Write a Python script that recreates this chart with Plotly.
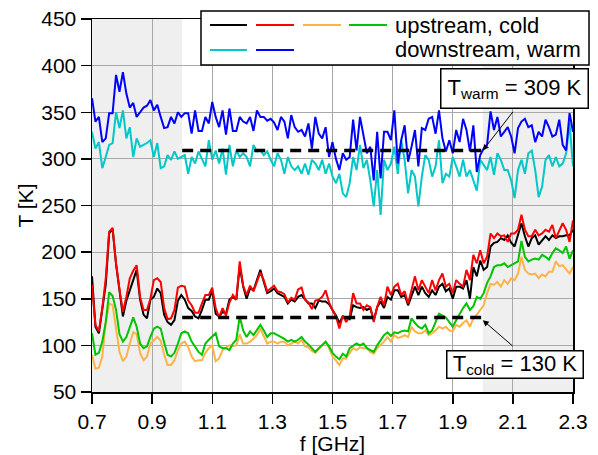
import numpy as np
import plotly.graph_objects as go

# ---------------- data ----------------
F_START, F_STOP = 0.7, 2.3          # GHz, first / last sample

# upstream, cold (black, red, orange, green)
black = [174,120,113,138,165,220,225,187,156,131,
         148,159,168,181,149,133,129,149,152,161,
         156,133,125,122,127,148,154,149,140,137,
         131,129,138,149,149,159,134,131,136,134,
         149,152,149,185,163,150,161,159,170,181,
         168,156,158,161,156,154,152,145,149,147,
         152,154,149,145,145,140,148,147,147,144,
         138,132,124,131,129,128,143,141,140,141,
         138,140,127,141,147,140,152,149,159,159,
         152,154,143,154,163,154,163,156,152,159,
         154,163,166,158,161,150,163,163,161,170,
         150,184,174,191,181,184,206,210,211,215,
         213,218,210,206,220,231,217,206,215,218,
         208,213,217,213,218,215,217,217,218,218,224]
red = [165,122,115,140,172,222,226,188,160,136,
       152,172,180,186,152,138,138,150,170,172,
       168,140,128,129,138,162,164,163,148,143,
       135,135,145,154,154,162,140,130,140,132,
       146,154,149,190,164,154,164,158,168,178,
       170,158,161,164,158,157,155,146,151,149,
       160,162,149,146,139,148,149,152,159,146,
       138,131,118,132,125,131,156,145,145,138,
       143,141,125,141,152,143,163,154,163,166,
       154,158,145,159,174,159,170,163,156,170,
       159,170,177,163,166,156,170,166,163,181,
       170,197,188,202,188,195,220,215,220,217,
       218,211,220,220,224,240,224,217,217,224,
       218,220,224,222,229,215,224,231,224,211,234]
orange = [90,75,76,88,124,145,143,120,93,83,
          88,102,114,112,92,84,88,102,106,109,
          105,90,79,79,84,95,102,104,98,88,
          83,84,84,92,97,100,83,86,95,98,
          100,99,100,112,102,102,104,107,111,118,
          109,102,104,104,102,104,104,100,102,104,
          102,106,99,98,94,92,96,100,104,97,
          88,84,79,86,86,92,97,95,98,97,
          97,93,91,97,100,104,109,104,111,108,
          109,111,109,120,115,113,113,116,111,113,
          116,120,118,120,116,115,122,120,124,127,
          120,129,133,138,143,156,166,165,168,163,
          170,166,172,170,177,195,181,177,176,177,
          172,176,174,179,179,190,185,186,182,177,184]
green = [113,90,92,104,125,157,153,138,112,104,
         109,120,130,120,102,97,99,109,118,120,
         118,103,90,88,92,102,113,115,113,104,
         98,93,90,102,106,110,113,99,97,97,
         95,102,106,131,116,109,115,111,116,122,
         116,109,113,113,111,109,107,104,106,104,
         106,109,104,101,97,93,97,101,104,99,
         92,88,85,91,88,97,100,102,100,102,
         97,95,93,100,106,111,114,110,114,113,
         115,116,115,129,124,120,118,122,113,116,
         125,134,132,130,125,120,127,134,140,145,
         138,142,152,150,156,167,174,184,186,186,
         188,184,186,188,190,212,195,190,192,193,
         192,197,195,192,199,204,202,199,206,193,202]

# downstream, warm (cyan, blue)
cyan = [329,311,318,290,302,315,317,350,333,352,
        322,334,302,322,313,315,317,320,302,317,
        290,292,304,299,308,300,302,304,284,302,
        295,308,300,292,320,299,309,295,311,283,
        315,292,309,302,306,302,292,315,308,309,
        304,308,299,292,306,299,284,302,292,288,
        292,284,295,283,299,295,288,299,284,295,
        281,274,284,263,259,274,302,288,315,290,
        299,277,249,288,240,299,288,295,313,284,
        320,299,263,288,281,249,281,304,299,281,
        292,320,274,284,281,302,292,281,299,281,
        288,277,266,299,293,288,302,283,306,299,
        288,288,277,258,288,299,284,306,309,288,
        259,270,299,304,292,302,292,295,306,338,292]
blue = [365,340,345,318,322,349,349,390,372,393,
        370,355,360,345,350,355,357,363,352,358,
        345,333,334,345,338,350,345,349,349,327,
        352,330,330,345,338,361,345,334,352,326,
        354,330,330,345,340,338,345,330,352,345,
        345,341,343,339,331,345,340,322,347,334,
        329,331,324,338,311,345,327,322,334,302,
        318,300,288,306,299,302,342,309,345,324,
        306,313,277,329,279,329,329,320,352,295,
        320,336,297,313,331,292,333,331,343,345,
        327,352,322,308,320,306,331,318,343,331,
        308,336,286,304,311,315,351,331,345,324,
        329,334,324,306,333,340,343,334,336,318,
        329,324,342,334,324,326,342,315,309,349,329]

T_WARM = 309
T_COLD = 130
REF_SPAN = (1.0, 2.0)
SHADED = [(0.7, 1.0), (2.0, 2.3)]
X_TICKS = [0.7, 0.9, 1.1, 1.3, 1.5, 1.7, 1.9, 2.1, 2.3]
Y_TICKS = [50, 100, 150, 200, 250, 300, 350, 400, 450]
LEGEND_ROWS = ["upstream, cold", "downstream, warm"]

# ---------------- figure ----------------
FONT = "Liberation Sans, Arial, Helvetica, sans-serif"
colors = {"black": "#000000", "red": "#ff0000", "orange": "#ffb347",
          "green": "#00c400", "cyan": "#00c8c8", "blue": "#0000ff"}
series = [("black", black), ("red", red), ("orange", orange),
          ("green", green), ("cyan", cyan), ("blue", blue)]

fig = go.Figure()
for name, vals in series:
    freq = np.linspace(F_START, F_STOP, len(vals))
    fig.add_trace(go.Scatter(x=freq, y=vals, mode="lines", name=name,
                             line=dict(color=colors[name], width=2),
                             showlegend=False, hoverinfo="skip"))

shapes = []
for x0, x1 in SHADED:
    shapes.append(dict(type="rect", xref="x", yref="y", x0=x0, x1=x1,
                       y0=Y_TICKS[0], y1=Y_TICKS[-1], fillcolor="#efefef",
                       line=dict(width=0), layer="below"))
for tref in (T_WARM, T_COLD):
    shapes.append(dict(type="line", xref="x", yref="y", x0=REF_SPAN[0], x1=REF_SPAN[1],
                       y0=tref, y1=tref, line=dict(color="black", width=3.5, dash="11px,7px"),
                       layer="above"))

# custom legend (box + line samples)
shapes.append(dict(type="rect", xref="paper", yref="paper", x0=0.2266, x1=1.0333,
                   y0=0.8767, y1=1.0214, fillcolor="white",
                   line=dict(color="black", width=1.5), layer="above"))
row_y = [0.9839, 0.9169]
row1 = ["black", "red", "orange", "green"]
row2 = ["cyan", "blue"]
xs = [(0.2453, 0.3222), (0.341, 0.42), (0.4387, 0.5177), (0.5343, 0.6133)]
for row, yy in ((row1, row_y[0]), (row2, row_y[1])):
    for k, name in enumerate(row):
        shapes.append(dict(type="line", xref="paper", yref="paper",
                           x0=xs[k][0], x1=xs[k][1], y0=yy, y1=yy,
                           line=dict(color=colors[name], width=2), layer="above"))

annotations = []
for txt, yy in zip(LEGEND_ROWS, row_y):
    annotations.append(dict(xref="paper", yref="paper", x=0.6258, y=yy, text=txt,
                            showarrow=False, xanchor="left", yanchor="middle",
                            font=dict(family=FONT, size=22, color="black")))

annotations.append(dict(xref="paper", yref="paper", x=0.8794, y=0.815,
                        text=f"T<sub>warm</sub> = {T_WARM} K", showarrow=False,
                        xanchor="center", yanchor="middle", bgcolor="white",
                        bordercolor="black", borderwidth=1.5, borderpad=3,
                        width=140, height=32,
                        font=dict(family=FONT, size=22, color="black")))
annotations.append(dict(xref="paper", yref="paper", x=0.8784, y=0.0724,
                        text=f"T<sub>cold</sub> = {T_COLD} K", showarrow=False,
                        xanchor="center", yanchor="middle", bgcolor="white",
                        bordercolor="black", borderwidth=1.5, borderpad=1,
                        width=133, height=24,
                        font=dict(family=FONT, size=22, color="black")))
# arrows
annotations.append(dict(x=REF_SPAN[1], y=T_WARM, xref="x", yref="y", text="",
                        showarrow=True, axref="x", ayref="y", ax=2.104, ay=352,
                        arrowhead=2, arrowsize=1.2, arrowwidth=1, arrowcolor="black"))
annotations.append(dict(x=REF_SPAN[1], y=T_COLD - 3, xref="x", yref="y", text="",
                        showarrow=True, axref="x", ayref="y", ax=2.104, ay=98,
                        arrowhead=2, arrowsize=1.2, arrowwidth=1, arrowcolor="black"))

axis_common = dict(showgrid=True, gridcolor="#a8a8a8", gridwidth=1, zeroline=False,
                   showline=True, linecolor="black", linewidth=1.5, mirror=True,
                   ticks="outside", ticklen=10, tickwidth=1.5, tickcolor="black",
                   automargin=False,
                   tickfont=dict(family=FONT, size=21, color="black"))

fig.update_layout(
    width=598, height=455,
    margin=dict(l=92, r=25, t=19, b=63, autoexpand=False),
    plot_bgcolor="white", paper_bgcolor="white",
    font=dict(family=FONT, size=21, color="black"),
    shapes=shapes, annotations=annotations,
    xaxis=dict(range=[X_TICKS[0], X_TICKS[-1]], tickvals=X_TICKS,
               ticktext=[f"{v:.1f}" for v in X_TICKS],
               title=dict(text="f [GHz]", standoff=4, font=dict(family=FONT, size=21)),
               **axis_common),
    yaxis=dict(range=[Y_TICKS[0], Y_TICKS[-1]], tickvals=Y_TICKS,
               ticktext=[str(v) for v in Y_TICKS],
               title=dict(text="T [K]", standoff=2, font=dict(family=FONT, size=21)),
               **axis_common),
)

fig.write_html("out.html",
               config={"displayModeBar": False, "staticPlot": True},
               post_script="document.body.style.margin='0';"
                           "document.body.style.overflow='hidden';")
